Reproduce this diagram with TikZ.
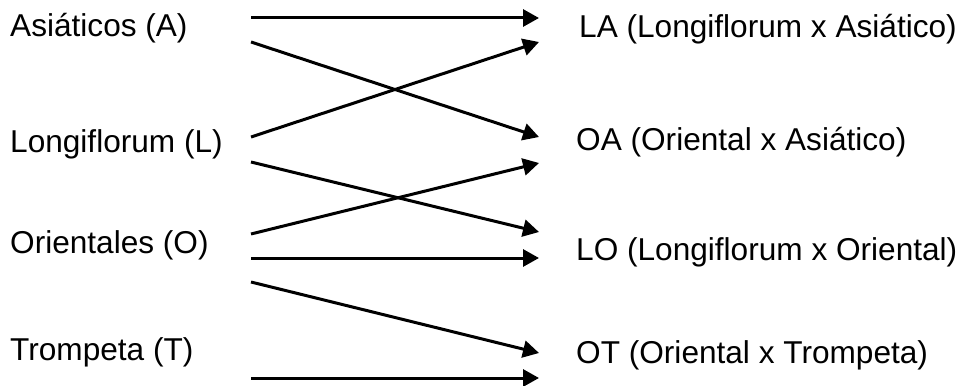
\documentclass[tikz,border=0pt]{standalone}
\usepackage{fontspec}
\setmainfont{Liberation Sans}
\usetikzlibrary{arrows.meta}
\begin{document}
\begin{tikzpicture}[x=1pt,y=-1pt,
  lbl/.style={anchor=base west,inner sep=0pt,font=\fontsize{31.6}{38}\selectfont},
  conn/.style={line width=3pt,-{Triangle[length=16pt,width=17pt]}}]
\useasboundingbox (0,0) rectangle (965,385);
% left labels
\node[lbl] (A) at (10,37) {Asiáticos (A)};
\node[lbl] (L) at (10,152) {Longiflorum (L)};
\node[lbl] (O) at (10,253) {Orientales (O)};
\node[lbl] (T) at (10,360) {Trompeta (T)};
% right labels
\node[lbl] (LA) at (579,38) {LA (Longiflorum x Asiático)};
\node[lbl] (OA) at (576,150) {OA (Oriental x Asiático)};
\node[lbl] (LO) at (576,260) {LO (Longiflorum x Oriental)};
\node[lbl] (OT) at (576,363) {OT (Oriental x Trompeta)};
% connector ends
\coordinate (a1) at (251,18);  \coordinate (la1) at (539,18);
\coordinate (a2) at (251,42);  \coordinate (oa1) at (539,137);
\coordinate (l1) at (251,137); \coordinate (la2) at (539,42);
\coordinate (l2) at (251,162); \coordinate (lo1) at (539,232);
\coordinate (o1) at (251,234); \coordinate (oa2) at (539,163);
\coordinate (o2) at (251,258); \coordinate (lo2) at (539,258);
\coordinate (o3) at (251,282); \coordinate (ot1) at (539,353);
\coordinate (t1) at (251,378); \coordinate (ot2) at (539,378);
\draw[conn] (a1) -- (la1);
\draw[conn] (a2) -- (oa1);
\draw[conn] (l1) -- (la2);
\draw[conn] (l2) -- (lo1);
\draw[conn] (o1) -- (oa2);
\draw[conn] (o2) -- (lo2);
\draw[conn] (o3) -- (ot1);
\draw[conn] (t1) -- (ot2);
\end{tikzpicture}
\end{document}
